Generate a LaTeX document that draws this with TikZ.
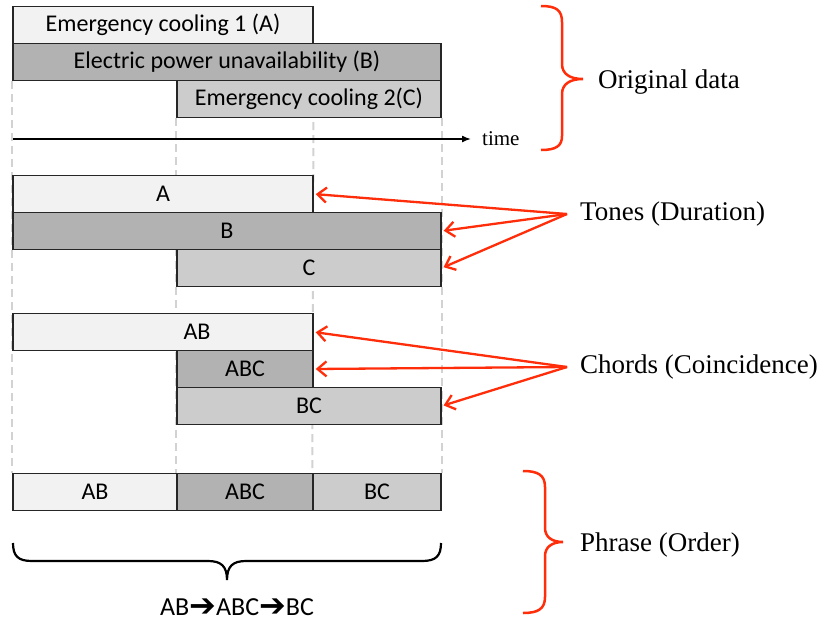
\documentclass[tikz,border=0pt]{standalone}
\usepackage{fontspec}
\setmainfont{Liberation Serif}
\newfontfamily\barfont{Carlito}
\newfontfamily\symfont{DejaVu Sans}
\usetikzlibrary{arrows.meta,positioning,backgrounds}
\definecolor{barlt}{HTML}{F2F2F2}
\definecolor{bardk}{HTML}{B2B2B2}
\definecolor{barmd}{HTML}{CCCCCC}
\definecolor{redln}{HTML}{FF2D0A}
\definecolor{inkb}{HTML}{262626}
\definecolor{guidec}{HTML}{D2D2D2}
\tikzset{
  bar/.style={rectangle, draw=inkb, line width=1.4pt, minimum height=37pt, inner sep=0pt,
              font=\barfont\fontsize{24}{28}\selectfont},
  barA/.style={bar, fill=barlt},
  barB/.style={bar, fill=bardk},
  barC/.style={bar, fill=barmd},
  guideline/.style={draw=guidec, line width=2pt, dash pattern=on 8pt off 5pt},
  lbl/.style={font=\fontsize{27}{32}\selectfont, inner sep=0pt, anchor=west},
  tlbl/.style={font=\fontsize{21}{25}\selectfont, inner sep=0pt, anchor=west},
  axisarr/.style={-{Latex[length=9pt,width=7pt]}, line width=1.5pt, draw=black},
  ra/.style={-{Straight Barb[length=9pt,width=15pt]}, draw=redln, line width=2.3pt, shorten >=2pt},
  rbrace/.style={draw=redln, line width=2.5pt},
  bbrace/.style={draw=black, line width=2.2pt},
}
\newcommand{\seqarrow}{\smash{\raisebox{-1.5pt}{\symfont\fontsize{32}{32}\selectfont ➔}}}
\begin{document}
\begin{tikzpicture}[x=1pt,y=-1pt]
  \useasboundingbox (0,0) rectangle (821,624);
  \node[barA, minimum width=300pt] (ecA) at (163,25) {Emergency cooling 1 (A)};
  \node[barB, minimum width=428pt] (epB) at (227,62) {Electric power unavailability (B)};
  \node[barC, minimum width=264pt] (ecC) at (309,99) {Emergency cooling 2(C)};

  \node[barA, minimum width=300pt] (tA) at (163,194) {A};
  \node[barB, minimum width=428pt] (tB) at (227,231) {B};
  \node[barC, minimum width=264pt] (tC) at (309,268) {C};
  \node[barA, minimum width=300pt] (cAB) at (163,332) {\hspace*{68pt}AB};
  \node[barB, minimum width=136pt] (cABC) at (245,369) {ABC};
  \node[barC, minimum width=264pt] (cBC) at (309,406) {BC};
  \node[barA, minimum width=164pt] (pAB) at (95,492) {AB};
  \node[barB, minimum width=136pt] (pABC) at (245,492) {ABC};
  \node[barC, minimum width=128pt] (pBC) at (377,492) {BC};

  \begin{scope}[on background layer]
    \draw[guideline] (epB.south west) -- (pAB.north west);
    \draw[guideline] (ecC.south west) -- (pABC.north west);
    \draw[guideline] (ecA.south east) -- (pBC.north west);
    \draw[guideline] (ecC.south east) -- (pBC.north east);
  \end{scope}

  \coordinate (t0) at (13,139);
  \node[tlbl] (time) at (482,139) {time};
  \draw[axisarr] (t0) -- ([xshift=-11pt]time.west);

  \node[lbl] (orig) at (598,82) {Original data};
  \node[lbl] (tones) at (580,214) {Tones (Duration)};
  \node[lbl] (chords) at (580,367) {Chords (Coincidence)};
  \node[lbl] (phrase) at (580,545) {Phrase (Order)};
  \coordinate[left=13pt of tones.west] (tfan);
  \coordinate[left=13pt of chords.west] (cfan);
  \draw[ra] (tfan) -- (tA.east);
  \draw[ra] (tfan) -- (tB.east);
  \draw[ra] (tfan) -- (tC.east);
  \draw[ra] (cfan) -- (cAB.east);
  \draw[ra] (cfan) -- (cABC.east);
  \draw[ra] (cfan) -- (cBC.east);

  \draw[rbrace] (541,6) .. controls (556,6) and (562,10) .. (562,22) -- (562,64)
    .. controls (562,74) and (570,79) .. (583,79) .. controls (570,79) and (562,84) .. (562,94)
    -- (562,136) .. controls (562,146) and (556,150) .. (541,150);
  \draw[rbrace] (523,471) .. controls (538,471) and (545,475) .. (545,487) -- (545,528)
    .. controls (545,537) and (552,542) .. (563,542) .. controls (552,542) and (545,547) .. (545,556)
    -- (545,597) .. controls (545,609) and (538,613) .. (523,613);
  \draw[bbrace] (13,543) .. controls (13,556) and (18,561) .. (32,561) -- (208,561)
    .. controls (221,561) and (227,566) .. (227,580) .. controls (227,566) and (233,561) .. (246,561)
    -- (422,561) .. controls (436,561) and (441,556) .. (441,543);
  \node[font=\barfont\fontsize{26}{30}\selectfont, inner sep=0pt] (seq) at (237,607)
    {AB\seqarrow ABC\seqarrow BC};
\end{tikzpicture}
\end{document}
